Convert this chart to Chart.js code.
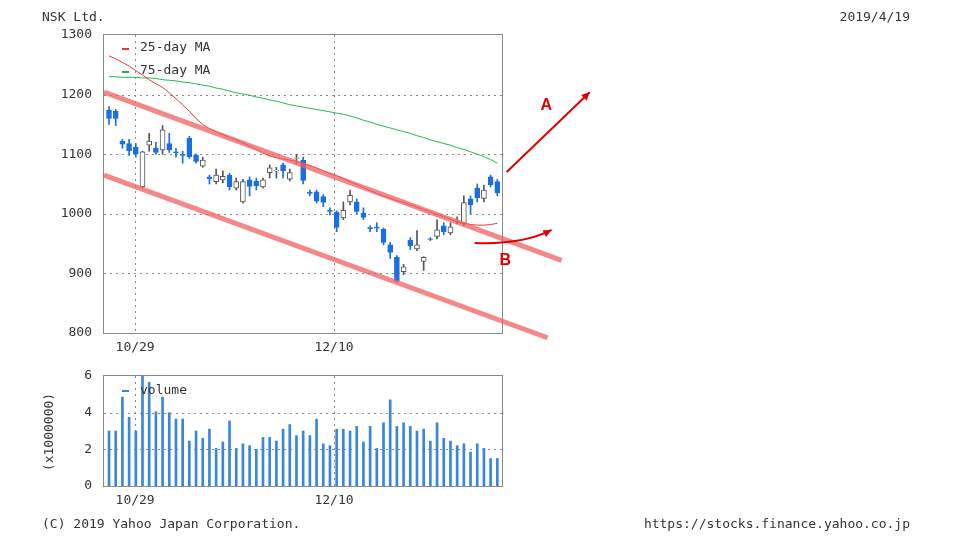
<!DOCTYPE html>
<html><head><meta charset="utf-8">
<script src="https://cdn.jsdelivr.net/npm/chart.js@4"></script>
<style>body{margin:0;background:#fff;width:960px;height:540px;overflow:hidden}
canvas{position:absolute;left:0;top:0}</style></head>
<body>
<canvas id="c1" width="960" height="540"></canvas>
<canvas id="c2" width="960" height="540"></canvas>
<script>
const openP=[1174,1172,1122,1118,1112,1045,1115,1110,1107,1118,1104,1100,1127,1098,1080,1062,1054,1057,1065,1043,1020,1057,1055,1045,1069,1072,1082,1058,1093,1090,1036,1037,1029,1006,1003,993,1020,1020,1001,977,978,974,948,927,903,956,941,920,958,962,980,968,988,984,1025,1043,1026,1062,1054];
const closeP=[1160,1160,1117,1106,1100,1104,1122,1103,1141,1107,1102,1098,1096,1088,1090,1059,1065,1063,1045,1054,1054,1046,1047,1057,1077,1073,1072,1069,1094,1056,1034,1021,1019,1004,977,1006,1031,1004,994,975,976,952,935,887,911,946,948,927,957,973,970,978,989,1019,1015,1027,1040,1049,1035];
const highP=[1180,1175,1125,1125,1118,1105,1135,1120,1148,1135,1110,1105,1130,1100,1095,1065,1075,1072,1068,1060,1058,1062,1060,1060,1082,1078,1085,1075,1100,1095,1040,1040,1032,1010,1005,1020,1040,1025,1010,980,985,976,952,930,915,960,972,928,960,990,985,985,995,1030,1030,1050,1048,1065,1058];
const lowP=[1150,1148,1110,1098,1095,1043,1105,1100,1100,1103,1095,1085,1093,1085,1078,1050,1050,1052,1040,1040,1018,1030,1040,1043,1060,1060,1060,1055,1085,1050,1030,1018,1012,998,970,990,1015,1000,990,970,970,948,925,885,898,940,938,905,955,958,965,965,983,980,1000,1020,1020,1045,1030];
const ma25=[1265,1260,1254,1248,1240,1233,1225,1218,1212,1203,1193,1183,1172,1160,1150,1143,1138,1133,1128,1124,1119,1114,1108,1102,1097,1094,1092,1090,1088,1085,1081,1077,1072,1068,1064,1059,1054,1049,1044,1039,1034,1030,1026,1022,1019,1015,1011,1007,1003,999,995,991,986,984,982,981,981,982,984];
const ma75=[1230,1230,1229,1229,1229,1228,1228,1227,1225,1224,1223,1221,1220,1218,1216,1214,1211,1209,1206,1203,1201,1199,1196,1194,1191,1189,1186,1183,1181,1179,1177,1175,1173,1171,1169,1167,1164,1161,1157,1154,1150,1147,1144,1141,1138,1135,1131,1128,1124,1121,1118,1115,1111,1108,1104,1100,1096,1091,1085];
const volume=[3.0,3.0,4.85,3.75,3.0,6.0,5.65,4.05,4.85,4.0,3.65,3.65,2.45,3.0,2.6,3.1,2.05,2.4,3.55,2.05,2.3,2.2,2.0,2.65,2.65,2.45,3.1,3.35,2.75,3.0,2.75,3.65,2.3,2.2,3.1,3.1,3.0,3.25,2.4,3.25,2.05,3.45,4.7,3.25,3.45,3.25,3.0,3.1,2.45,3.45,2.6,2.45,2.2,2.3,1.85,2.3,2.05,1.5,1.5];
const dateTicks=[3.9,33.6];
const dateLabels=['10/29','12/10'];
const priceTicks=[800,900,1000,1100,1200,1300];
const volTicks=[0,2,4,6];
const upperTrend=[{x:-0.75,y:1204},{x:67.6,y:922}];
const lowerTrend=[{x:-0.75,y:1065},{x:65.5,y:792}];

const BLUE='#1a6fe0', FONT='"DejaVu Sans Mono", monospace';
const idx=openP.map((_,i)=>i);
const up=i=>closeP[i]>=openP[i];
function makeX(){return {type:'linear',min:-0.75,max:58.7,offset:false,bounds:'data',
  afterBuildTicks:s=>{s.ticks=dateTicks.map(v=>({value:v}));},
  afterFit:s=>{s.height=20;},
  ticks:{display:false},grid:{display:false},border:{display:false}};}
function makeY(min,max,ticks){return {min,max,afterBuildTicks:s=>{s.ticks=ticks.map(v=>({value:v}));},afterFit:s=>{s.width=60;},
      ticks:{color:'#333',font:{family:FONT,size:13},padding:4,callback:v=>String(v)},grid:{display:false},border:{display:false}};}
function dashedGrid(){return {id:'dg',beforeDatasetsDraw(c){const {ctx,chartArea:a}=c;ctx.save();ctx.strokeStyle='#888';ctx.lineWidth=1;ctx.setLineDash([2,4]);
  const y=c.scales.y;y.ticks.forEach(t=>{const p=Math.round(y.getPixelForValue(t.value))+0.5;if(p>a.top+1&&p<a.bottom-1){ctx.beginPath();ctx.moveTo(a.left,p);ctx.lineTo(a.right,p);ctx.stroke();}});
  dateTicks.forEach(v=>{const p=Math.round(c.scales.x.getPixelForValue(v))+0.5;ctx.beginPath();ctx.moveTo(p,a.top);ctx.lineTo(p,a.bottom);ctx.stroke();});
  ctx.setLineDash([]);ctx.strokeStyle='#888';ctx.strokeRect(a.left-0.5,a.top-0.5,a.right-a.left+1,a.bottom-a.top+1);
  ctx.restore();},
  afterDraw(c){const {ctx,chartArea:a}=c;ctx.save();ctx.font='13px '+FONT;ctx.fillStyle='#333';ctx.textAlign='center';ctx.textBaseline='middle';
   dateTicks.forEach((v,k)=>ctx.fillText(dateLabels[k],c.scales.x.getPixelForValue(v),a.bottom+15));ctx.restore();}};}

new Chart(document.getElementById('c1'),{
 data:{datasets:[
  {type:'line',data:ma75.map((v,i)=>({x:i,y:v})),borderColor:'#2bb35a',borderWidth:1,pointRadius:0,order:5},
  {type:'bar',data:idx.map(i=>({x:i,y:[lowP[i],highP[i]]})),backgroundColor:idx.map(i=>up(i)?'#555':BLUE),barThickness:1,grouped:false,order:4},
  {type:'bar',data:idx.map(i=>({x:i,y:[openP[i],closeP[i]===openP[i]?openP[i]+1:closeP[i]]})),backgroundColor:idx.map(i=>up(i)?'#fff':BLUE),borderColor:idx.map(i=>up(i)?'#555':BLUE),borderWidth:1,borderSkipped:false,barThickness:5,grouped:false,order:3},
  {type:'line',data:ma25.map((v,i)=>({x:i,y:v})),borderColor:'#e83a3a',borderWidth:1,pointRadius:0,order:2},
  {type:'line',data:upperTrend,borderColor:'rgba(240,95,95,0.75)',borderWidth:5,pointRadius:0,clip:false,order:1},
  {type:'line',data:lowerTrend,borderColor:'rgba(240,95,95,0.75)',borderWidth:5,pointRadius:0,clip:false,order:1}
 ]},
 options:{responsive:false,animation:false,events:[],
  layout:{padding:{left:44,right:458,top:35,bottom:187}},
  plugins:{legend:{display:false},tooltip:{enabled:false}},
  scales:{x:makeX(),y:makeY(800,1300,priceTicks)}},
 plugins:[dashedGrid(),{id:'ann',afterDraw(c){const {ctx}=c;const x=c.scales.x,y=c.scales.y;const P=(i,v)=>[x.getPixelForValue(i),y.getPixelForValue(v)];
  ctx.save();ctx.font='13px '+FONT;ctx.fillStyle='#333';ctx.textBaseline='middle';
  ctx.fillText('NSK Ltd.',42,18);ctx.textAlign='right';ctx.fillText('2019/4/19',910,18);ctx.textAlign='left';
  ctx.fillText('(C) 2019 Yahoo Japan Corporation.',42,525);ctx.textAlign='right';ctx.fillText('https://stocks.finance.yahoo.co.jp',910,525);
  ctx.textAlign='left';ctx.fillText('25-day MA',140,48);ctx.fillText('75-day MA',140,71);
  ctx.fillStyle='#e83a3a';ctx.fillRect(122,48,7,2);ctx.fillStyle='#2bb35a';ctx.fillRect(122,71,7,2);
  ctx.strokeStyle='#e00000';ctx.fillStyle='#e00000';ctx.lineWidth=2;
  const head=(a,b)=>{const ang=Math.atan2(b[1]-a[1],b[0]-a[0]);ctx.beginPath();ctx.moveTo(b[0],b[1]);ctx.lineTo(b[0]-9*Math.cos(ang-0.45),b[1]-9*Math.sin(ang-0.45));ctx.lineTo(b[0]-9*Math.cos(ang+0.45),b[1]-9*Math.sin(ang+0.45));ctx.closePath();ctx.fill();};
  let a=P(59.4,1070),b=P(71.8,1204);ctx.beginPath();ctx.moveTo(a[0],a[1]);ctx.lineTo(b[0],b[1]);ctx.stroke();head(a,b);
  a=P(54.6,951);const m=P(61.8,948);b=P(66.1,973);ctx.beginPath();ctx.moveTo(a[0],a[1]);ctx.quadraticCurveTo(m[0],m[1],b[0],b[1]);ctx.stroke();head(m,b);
  ctx.font='bold 16px "Liberation Sans", Arial';ctx.textAlign='center';let t=P(65.3,1182);ctx.fillText('A',t[0],t[1]);t=P(59.2,922);ctx.fillText('B',t[0],t[1]);
  ctx.restore();}}]
});

new Chart(document.getElementById('c2'),{
 data:{datasets:[{type:'bar',data:volume.map((v,i)=>({x:i,y:v})),backgroundColor:'#3a86dc',barThickness:2}]},
 options:{responsive:false,animation:false,events:[],
  layout:{padding:{left:44,right:458,top:376,bottom:34}},
  plugins:{legend:{display:false},tooltip:{enabled:false}},
  scales:{x:makeX(),y:makeY(0,6,volTicks)}},
 plugins:[dashedGrid(),{id:'vl',afterDraw(c){const {ctx}=c;ctx.save();ctx.font='13px '+FONT;ctx.fillStyle='#333';ctx.textBaseline='middle';
  ctx.fillText('volume',140,391);ctx.fillStyle='#3a86dc';ctx.fillRect(122,390,7,2);
  ctx.translate(50,432);ctx.rotate(-Math.PI/2);ctx.fillStyle='#333';ctx.textAlign='center';ctx.fillText('(x1000000)',0,0);ctx.restore();}}]
});
</script></body></html>
